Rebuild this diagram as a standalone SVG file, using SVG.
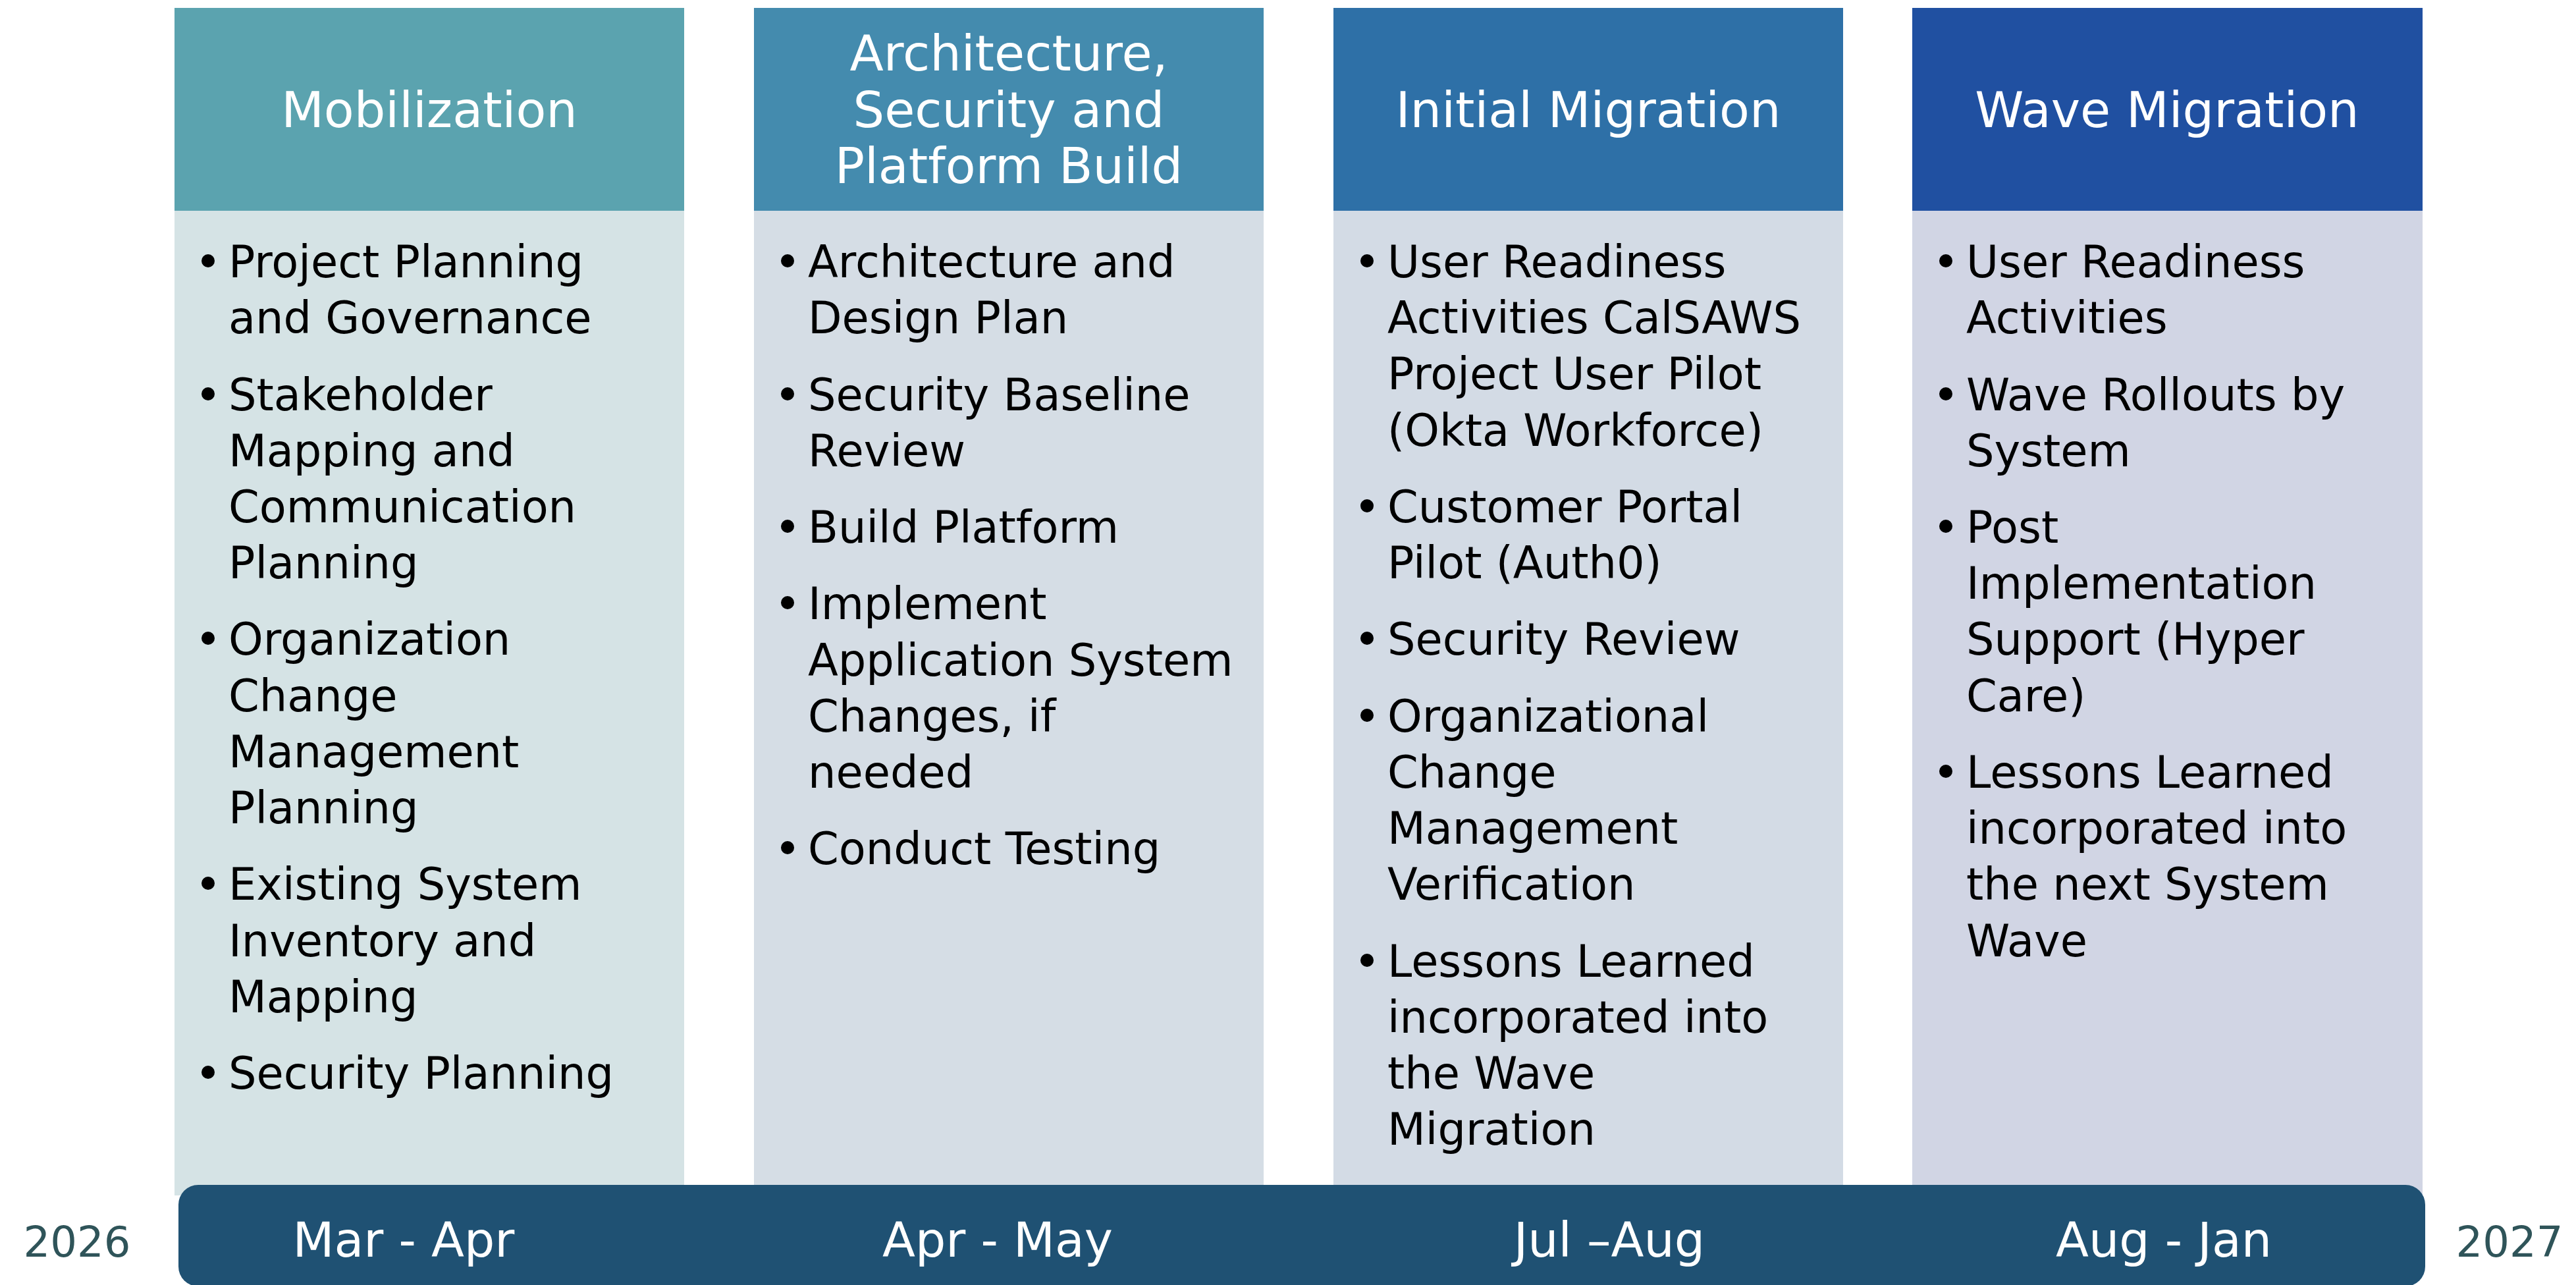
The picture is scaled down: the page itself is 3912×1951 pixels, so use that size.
<svg xmlns="http://www.w3.org/2000/svg" width="3912" height="1951" viewBox="0 0 3912 1951">
<style>
.hd{font-family:"DejaVu Sans",sans-serif;font-size:75px;fill:#FFFFFF;text-anchor:middle}
.bt{font-family:"DejaVu Sans",sans-serif;font-size:67px;fill:#000000}
.dot{fill:#000000}
.mo{font-family:"DejaVu Sans",sans-serif;font-size:73px;fill:#FFFFFF;text-anchor:middle}
.yr{font-family:"DejaVu Sans",sans-serif;font-size:64px;fill:#2F5459;text-anchor:middle}
</style>
<rect width="3912" height="1951" fill="#FFFFFF"/>
<g id="phase-mobilization">
<rect x="265" y="320" width="774" height="1495" fill="#D5E3E5"/>
<rect x="265" y="12" width="774" height="308" fill="#5BA3AF"/>
<text class="hd" x="652" y="193">Mobilization</text>
<circle class="dot" cx="316" cy="396" r="10"/><text class="bt" x="347" y="421">Project Planning</text>
<text class="bt" x="347" y="506">and Governance</text>
<circle class="dot" cx="316" cy="598" r="10"/><text class="bt" x="347" y="623">Stakeholder</text>
<text class="bt" x="347" y="708">Mapping and</text>
<text class="bt" x="347" y="793">Communication</text>
<text class="bt" x="347" y="878">Planning</text>
<circle class="dot" cx="316" cy="969" r="10"/><text class="bt" x="347" y="994">Organization</text>
<text class="bt" x="347" y="1080">Change</text>
<text class="bt" x="347" y="1165">Management</text>
<text class="bt" x="347" y="1250">Planning</text>
<circle class="dot" cx="316" cy="1341" r="10"/><text class="bt" x="347" y="1366">Existing System</text>
<text class="bt" x="347" y="1452">Inventory and</text>
<text class="bt" x="347" y="1537">Mapping</text>
<circle class="dot" cx="316" cy="1628" r="10"/><text class="bt" x="347" y="1653">Security Planning</text>
</g>
<g id="phase-architecture">
<rect x="1145" y="320" width="774" height="1495" fill="#D5DDE5"/>
<rect x="1145" y="12" width="774" height="308" fill="#448BAE"/>
<text class="hd" x="1532" y="107">Architecture,</text>
<text class="hd" x="1532" y="193">Security and</text>
<text class="hd" x="1532" y="278">Platform Build</text>
<circle class="dot" cx="1196" cy="396" r="10"/><text class="bt" x="1227" y="421">Architecture and</text>
<text class="bt" x="1227" y="506">Design Plan</text>
<circle class="dot" cx="1196" cy="598" r="10"/><text class="bt" x="1227" y="623">Security Baseline</text>
<text class="bt" x="1227" y="708">Review</text>
<circle class="dot" cx="1196" cy="799" r="10"/><text class="bt" x="1227" y="824">Build Platform</text>
<circle class="dot" cx="1196" cy="915" r="10"/><text class="bt" x="1227" y="940">Implement</text>
<text class="bt" x="1227" y="1026">Application System</text>
<text class="bt" x="1227" y="1111">Changes, if</text>
<text class="bt" x="1227" y="1196">needed</text>
<circle class="dot" cx="1196" cy="1287" r="10"/><text class="bt" x="1227" y="1312">Conduct Testing</text>
</g>
<g id="phase-initial-migration">
<rect x="2025" y="320" width="774" height="1495" fill="#D3DBE5"/>
<rect x="2025" y="12" width="774" height="308" fill="#2E70A7"/>
<text class="hd" x="2412" y="193">Initial Migration</text>
<circle class="dot" cx="2076" cy="396" r="10"/><text class="bt" x="2107" y="421">User Readiness</text>
<text class="bt" x="2107" y="506">Activities CalSAWS</text>
<text class="bt" x="2107" y="591">Project User Pilot</text>
<text class="bt" x="2107" y="677">(Okta Workforce)</text>
<circle class="dot" cx="2076" cy="768" r="10"/><text class="bt" x="2107" y="793">Customer Portal</text>
<text class="bt" x="2107" y="878">Pilot (Auth0)</text>
<circle class="dot" cx="2076" cy="969" r="10"/><text class="bt" x="2107" y="994">Security Review</text>
<circle class="dot" cx="2076" cy="1086" r="10"/><text class="bt" x="2107" y="1111">Organizational</text>
<text class="bt" x="2107" y="1196">Change</text>
<text class="bt" x="2107" y="1281">Management</text>
<text class="bt" x="2107" y="1366">Verification</text>
<circle class="dot" cx="2076" cy="1458" r="10"/><text class="bt" x="2107" y="1483">Lessons Learned</text>
<text class="bt" x="2107" y="1568">incorporated into</text>
<text class="bt" x="2107" y="1653">the Wave</text>
<text class="bt" x="2107" y="1738">Migration</text>
</g>
<g id="phase-wave-migration">
<rect x="2904" y="320" width="775" height="1495" fill="#D1D5E4"/>
<rect x="2904" y="12" width="775" height="308" fill="#2050A1"/>
<text class="hd" x="3291" y="193">Wave Migration</text>
<circle class="dot" cx="2955" cy="396" r="10"/><text class="bt" x="2986" y="421">User Readiness</text>
<text class="bt" x="2986" y="506">Activities</text>
<circle class="dot" cx="2955" cy="598" r="10"/><text class="bt" x="2986" y="623">Wave Rollouts by</text>
<text class="bt" x="2986" y="708">System</text>
<circle class="dot" cx="2955" cy="799" r="10"/><text class="bt" x="2986" y="824">Post</text>
<text class="bt" x="2986" y="909">Implementation</text>
<text class="bt" x="2986" y="994">Support (Hyper</text>
<text class="bt" x="2986" y="1080">Care)</text>
<circle class="dot" cx="2955" cy="1171" r="10"/><text class="bt" x="2986" y="1196">Lessons Learned</text>
<text class="bt" x="2986" y="1281">incorporated into</text>
<text class="bt" x="2986" y="1366">the next System</text>
<text class="bt" x="2986" y="1452">Wave</text>
</g>
<g id="timeline">
<rect x="271" y="1799" width="3412" height="154" rx="30" ry="30" fill="#1F5173"/>
<text class="mo" x="613" y="1908">Mar - Apr</text>
<text class="mo" x="1515" y="1908">Apr - May</text>
<text class="mo" x="2444" y="1908">Jul –Aug</text>
<text class="mo" x="3286" y="1908">Aug - Jan</text>
<text class="yr" x="117" y="1908">2026</text>
<text class="yr" x="3811" y="1908">2027</text>
</g>
<g id="connectors"></g>
</svg>
